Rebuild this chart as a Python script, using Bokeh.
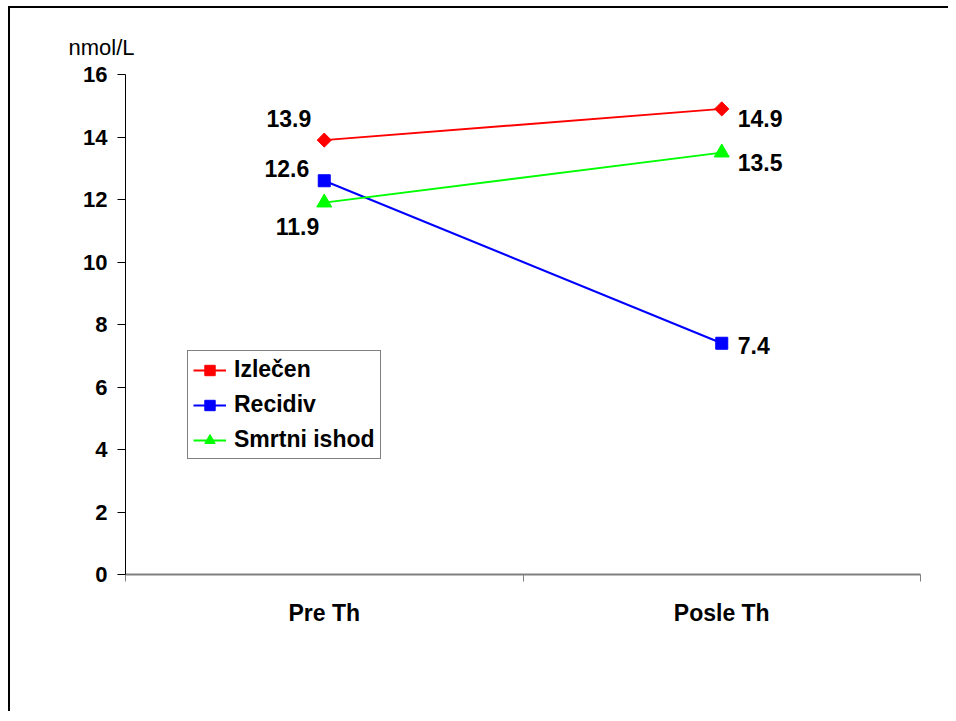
import math
from bokeh.plotting import figure
from bokeh.models import Range1d, LinearAxis, FixedTicker, Legend, LegendItem, Label, Title
from bokeh.embed import file_html
from bokeh.resources import INLINE

categories = ["Pre Th", "Posle Th"]
izlecen = [13.9, 14.9]
recidiv = [12.6, 7.4]
smrtni = [11.9, 13.5]
y_ticks = [0, 2, 4, 6, 8, 10, 12, 14, 16]
unit_label = "nmol/L"
series_names = ["Izlečen", "Recidiv", "Smrtni ishod"]

FONT = "Liberation Sans"
BOLD_SIZE = "23px"
n = len(categories)
xpos = [2 * i + 1 for i in range(n)]

p = figure(width=940, height=705, output_backend="svg", toolbar_location=None,
           x_range=Range1d(0, 2 * n), y_range=Range1d(0, 16),
           x_axis_type=None, y_axis_type=None,
           min_border_left=115, min_border_right=30, min_border_top=66, min_border_bottom=139)
p.styles = {"margin-left": "8px", "margin-top": "6px",
            "border-left": "2px solid black", "border-top": "2px solid black"}
p.outline_line_color = None
p.grid.visible = False

p.title = Title(text=unit_label, align="left", offset=-57, standoff=29,
                text_font=FONT, text_font_size="22px", text_font_style="normal",
                text_color="black")

# y axis
yax = LinearAxis(ticker=FixedTicker(ticks=y_ticks))
yax.axis_line_color = "black"
yax.axis_line_width = 1
yax.major_tick_line_color = "black"
yax.major_tick_out = 8
yax.major_tick_in = 0
yax.minor_tick_line_color = None
yax.major_label_text_font = FONT
yax.major_label_text_font_style = "bold"
yax.major_label_text_font_size = "22px"
yax.major_label_text_color = "black"
yax.major_label_standoff = 10
p.add_layout(yax, "left")

# x axis: labels at category centres, ticks at category boundaries
xax = LinearAxis(ticker=FixedTicker(ticks=xpos, minor_ticks=[2 * i for i in range(n + 1)]))
xax.axis_line_color = "#808080"
xax.axis_line_width = 2
xax.major_tick_line_color = None
xax.minor_tick_line_color = "#808080"
xax.minor_tick_line_width = 1
xax.minor_tick_out = 7
xax.minor_tick_in = 0
xax.major_label_overrides = {x: c for x, c in zip(xpos, categories)}
xax.major_label_text_font = FONT
xax.major_label_text_font_style = "bold"
xax.major_label_text_font_size = BOLD_SIZE
xax.major_label_text_color = "black"
xax.major_label_standoff = 18
p.add_layout(xax, "below")

# series
r1l = p.line(xpos, izlecen, line_color="#FF0000", line_width=2)
r1m = p.scatter(xpos, izlecen, marker="square", angle=math.pi / 4, size=10,
                fill_color="#FF0000", line_color="#FF0000")
r2l = p.line(xpos, recidiv, line_color="#0000FF", line_width=2)
r2m = p.scatter(xpos, recidiv, marker="square", size=12, fill_color="#0000FF", line_color="#0000FF")
r3l = p.line(xpos, smrtni, line_color="#00FF00", line_width=2)
r3m = p.scatter(xpos, smrtni, marker="triangle", size=15, fill_color="#00FF00", line_color="#00FF00")

# data labels
offsets = {
    ("izl", 0): (-13, 22, "right"), ("izl", 1): (16, -10, "left"),
    ("rec", 0): (-15, 12, "right"), ("rec", 1): (16, -2, "left"),
    ("smr", 0): (-5, -24, "right"), ("smr", 1): (16, -10, "left"),
}
for key, vals in (("izl", izlecen), ("rec", recidiv), ("smr", smrtni)):
    for i, v in enumerate(vals):
        dx, dy, al = offsets[(key, i)]
        lab = Label(x=xpos[i], y=v, text=f"{v:.1f}", x_offset=dx, y_offset=dy,
                    text_align=al, text_baseline="middle", text_font=FONT,
                    text_font_style="bold", text_font_size=BOLD_SIZE, text_color="black")
        p.add_layout(lab)

legend = Legend(items=[
    LegendItem(label=series_names[0], renderers=[r1l, r1m]),
    LegendItem(label=series_names[1], renderers=[r2l, r2m]),
    LegendItem(label=series_names[2], renderers=[r3l, r3m]),
], location=(62, 115))
legend.border_line_color = "black"
legend.border_line_width = 1
legend.background_fill_color = "white"
legend.background_fill_alpha = 1
legend.label_text_font = FONT
legend.label_text_font_style = "bold"
legend.label_text_font_size = BOLD_SIZE
legend.label_text_color = "black"
legend.glyph_width = 33
legend.glyph_height = 26
legend.label_height = 26
legend.spacing = 8
legend.padding = 5
legend.margin = 0
legend.label_standoff = 8
p.add_layout(legend, "center")

open("out.html", "w").write(file_html(p, INLINE))
